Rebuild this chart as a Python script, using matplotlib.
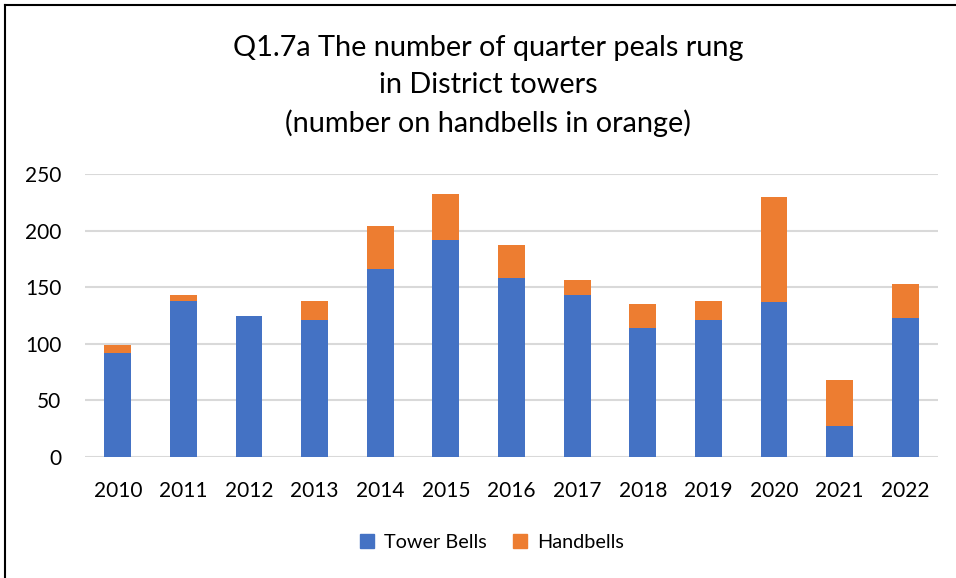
import matplotlib
matplotlib.use("Agg")
import matplotlib.pyplot as plt
from matplotlib.lines import Line2D
from matplotlib.patches import Patch

years = ["2010", "2011", "2012", "2013", "2014", "2015", "2016",
         "2017", "2018", "2019", "2020", "2021", "2022"]
tower_bells = [92, 138, 125, 121, 166, 192, 158, 143, 114, 121, 137, 27, 123]
handbells = [7, 5, 0, 17, 38, 40, 29, 13, 21, 17, 93, 41, 30]

title = "Q1.7a The number of quarter peals rung\nin District towers\n(number on handbells in orange)"

plt.rcParams['font.family'] = ['Lato', 'DejaVu Sans']

W, H = 956, 578
fig = plt.figure(figsize=(W / 100, H / 100), dpi=100)
ax = fig.add_axes([85 / W, 1 - 457 / H, 853 / W, 283 / H])

blue = "#4472C4"
orange = "#ED7D31"
x = list(range(len(years)))
ax.bar(x, tower_bells, width=0.41, color=blue, zorder=3, label="Tower Bells")
ax.bar(x, handbells, width=0.41, bottom=tower_bells, color=orange, zorder=3, label="Handbells")

ax.set_xlim(-0.5, len(years) - 0.5)
ax.set_ylim(0, 250)
ax.set_yticks([0, 50, 100, 150, 200, 250])
ax.set_xticks(x)
ax.set_xticklabels(years)
ax.tick_params(axis='both', length=0, labelsize=15, colors="#000000")
ax.tick_params(axis='y', pad=17)
ax.tick_params(axis='x', pad=17)
for s in ax.spines.values():
    s.set_visible(False)
ax.yaxis.grid(True, color="#d9d9d9", linewidth=1.5, zorder=0)
ax.set_axisbelow(True)

fig.text(488 / W, 1 - 86 / H, title, ha="center", va="center", fontsize=20.8,
         linespacing=1.5)

handles = [Patch(color=blue, label="Tower Bells"), Patch(color=orange, label="Handbells")]
fig.legend(handles=handles, loc="center", bbox_to_anchor=(492 / W, 1 - 542 / H),
           ncol=2, frameon=False, fontsize=14.3, handlelength=0.7, handleheight=0.7,
           columnspacing=1.3, handletextpad=0.5)

# outer frame (left and top edges visible)
fig.add_artist(Line2D([4.5 / W, 4.5 / W], [0, 1 - 4.5 / H], transform=fig.transFigure,
                      color="black", linewidth=1.5))
fig.add_artist(Line2D([4.5 / W, 1], [1 - 4.5 / H, 1 - 4.5 / H], transform=fig.transFigure,
                      color="black", linewidth=1.5))

fig.savefig("out.png", dpi=100)
